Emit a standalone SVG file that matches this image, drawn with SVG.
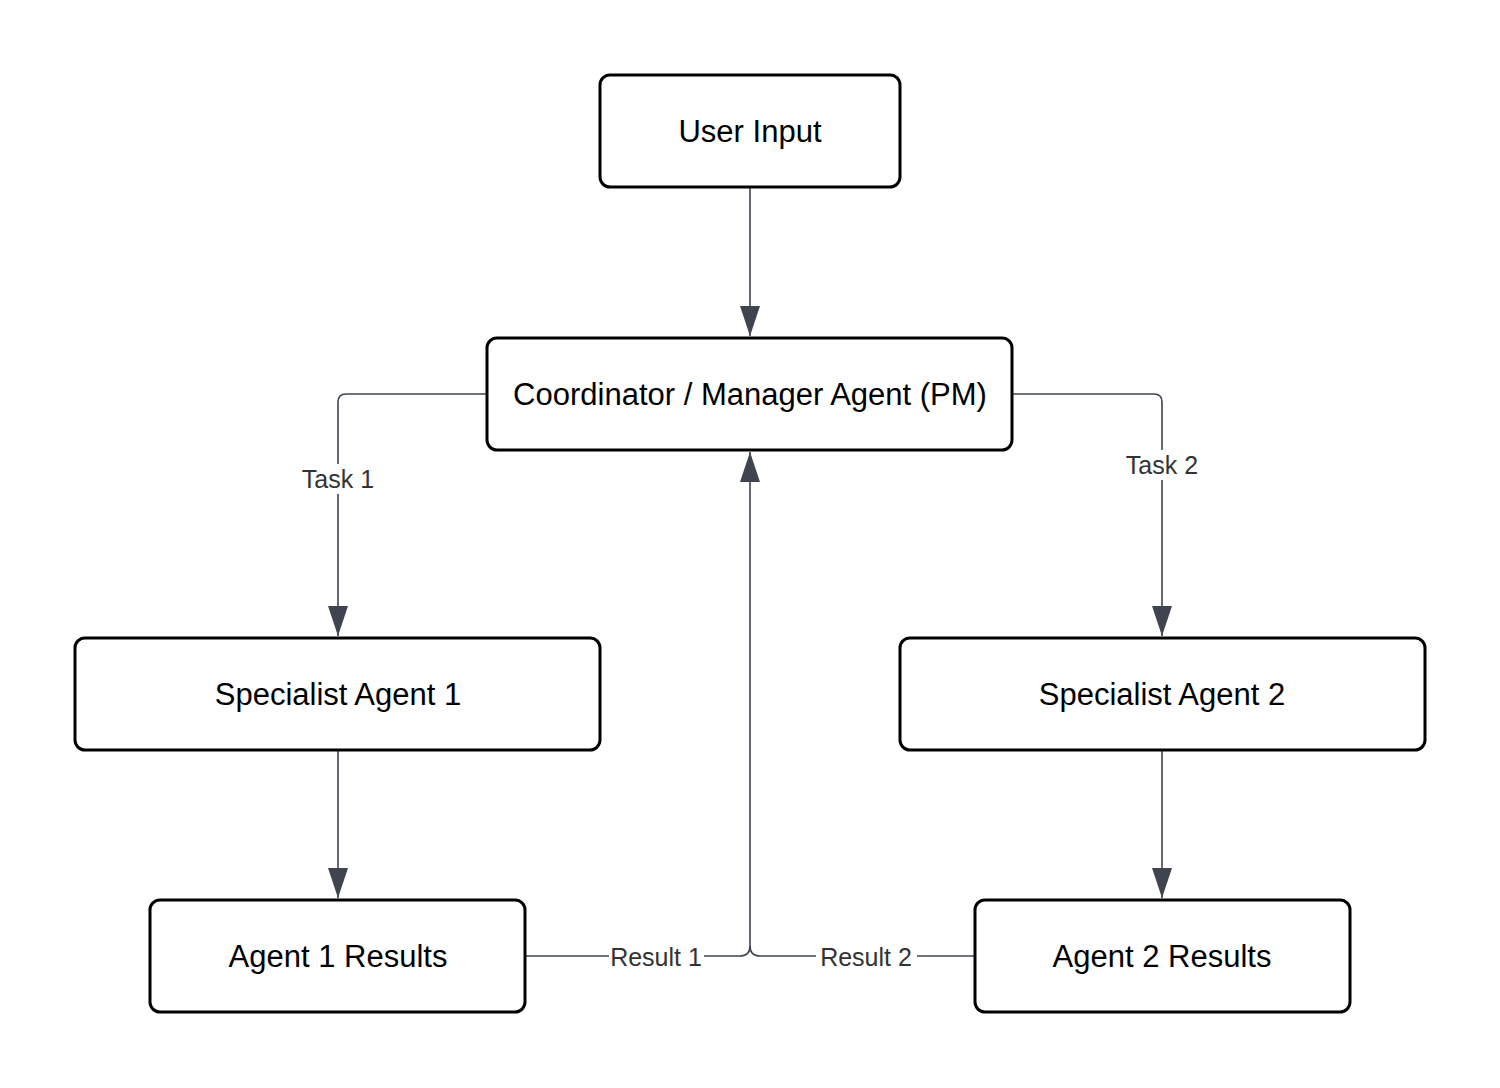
<svg xmlns="http://www.w3.org/2000/svg" width="1500" height="1088" viewBox="0 0 1500 1088">
<style>
.node rect{fill:#fff;stroke:#000;stroke-width:3}
.node text{font-family:"Liberation Sans",Arial,sans-serif;font-size:31px;fill:#000;text-anchor:middle;dominant-baseline:central}
.edge{fill:none;stroke:#3f444e;stroke-width:1.6}
.lbl rect{fill:#fff}
.lbl text{font-family:"Liberation Sans",Arial,sans-serif;font-size:25px;fill:#333;text-anchor:middle;dominant-baseline:central}
</style>
<defs>
<marker id="ah" viewBox="0 0 30 20" refX="30" refY="10" markerWidth="30" markerHeight="20" markerUnits="userSpaceOnUse" orient="auto">
<path d="M0,0 L30,10 L0,20 Z" fill="#3f444e"/>
</marker>
</defs>
<rect width="1500" height="1088" fill="#fff"/>
<g id="connectors">
<path class="edge" d="M750,187 V336" marker-end="url(#ah)"/>
<path class="edge" d="M487,394 H346 Q338,394 338,402 V636" marker-end="url(#ah)"/>
<path class="edge" d="M1012,394 H1154 Q1162,394 1162,402 V636" marker-end="url(#ah)"/>
<path class="edge" d="M338,750 V898" marker-end="url(#ah)"/>
<path class="edge" d="M1162,750 V898" marker-end="url(#ah)"/>
<path class="edge" d="M525,956 H740 Q750,956 750,946 V452" marker-end="url(#ah)"/>
<path class="edge" d="M975,956 H760 Q750,956 750,946"/>
<g class="lbl"><rect x="303" y="464" width="70" height="30"/><text x="338" y="479">Task 1</text></g>
<g class="lbl"><rect x="1121" y="450" width="82" height="30"/><text x="1162" y="465">Task 2</text></g>
<g class="lbl"><rect x="609" y="942" width="95" height="30"/><text x="656" y="957">Result 1</text></g>
<g class="lbl"><rect x="816" y="942" width="101" height="30"/><text x="866" y="957">Result 2</text></g>
</g>
<g id="user-input" class="node"><rect x="600" y="75" width="300" height="112" rx="10"/><text x="750" y="131">User Input</text></g>
<g id="coordinator" class="node"><rect x="487" y="338" width="525" height="112" rx="10"/><text x="750" y="394">Coordinator / Manager Agent (PM)</text></g>
<g id="specialist-1" class="node"><rect x="75" y="638" width="525" height="112" rx="10"/><text x="338" y="694">Specialist Agent 1</text></g>
<g id="specialist-2" class="node"><rect x="900" y="638" width="525" height="112" rx="10"/><text x="1162" y="694">Specialist Agent 2</text></g>
<g id="agent-1-results" class="node"><rect x="150" y="900" width="375" height="112" rx="10"/><text x="338" y="956">Agent 1 Results</text></g>
<g id="agent-2-results" class="node"><rect x="975" y="900" width="375" height="112" rx="10"/><text x="1162" y="956">Agent 2 Results</text></g>
</svg>
